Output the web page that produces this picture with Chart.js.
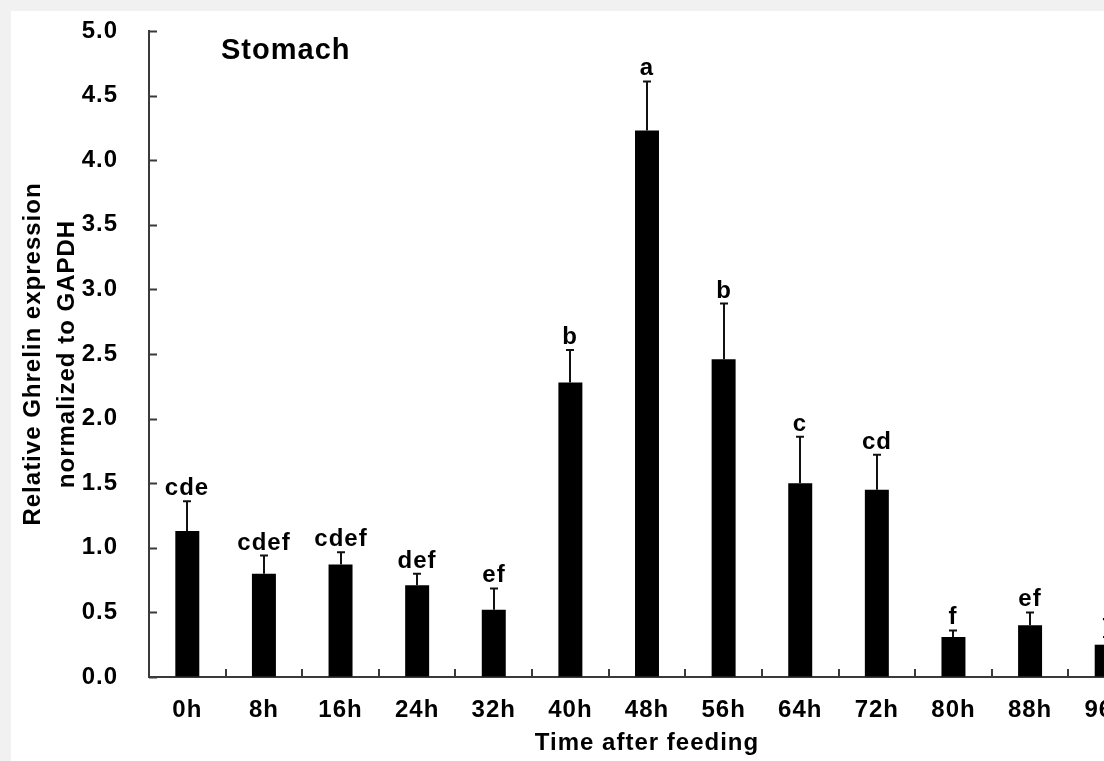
<!DOCTYPE html>
<html>
<head>
<meta charset="utf-8">
<title>Stomach ghrelin expression after feeding</title>
<script src="https://cdn.jsdelivr.net/npm/chart.js@4.4.1/dist/chart.umd.min.js"></script>
<style>
  html, body { margin: 0; padding: 0; width: 1104px; height: 761px; overflow: hidden; background: #f1f1f1; }
  #panel { position: absolute; left: 11px; top: 11px; width: 1140px; height: 750px; background: #ffffff; }
  canvas { display: block; }
</style>
</head>
<body>
<div id="panel"><canvas id="chart" width="1140" height="750"></canvas></div>
<script>
// Sampling times after feeding
const categories = ['0h', '8h', '16h', '24h', '32h', '40h', '48h', '56h', '64h', '72h', '80h', '88h', '96h'];
// Mean relative ghrelin mRNA (normalized to GAPDH)
const meanExpression = [1.13, 0.80, 0.87, 0.71, 0.52, 2.28, 4.23, 2.46, 1.50, 1.45, 0.31, 0.40, 0.25];
// Upper error (SE)
const errorSE = [0.23, 0.14, 0.095, 0.09, 0.165, 0.25, 0.38, 0.43, 0.36, 0.27, 0.05, 0.10, 0.06];
// Significance groups
const groupLetters = ['cde', 'cdef', 'cdef', 'def', 'ef', 'b', 'a', 'b', 'c', 'cd', 'f', 'ef', 'f'];
// Y axis tick labels
const yTickLabels = ['0.0', '0.5', '1.0', '1.5', '2.0', '2.5', '3.0', '3.5', '4.0', '4.5', '5.0'];

const FONT = '"Liberation Sans", Arial, Helvetica, sans-serif';
const INK = '#000000';
const AXIS = '#3a3a3a';
const SPACING = '1px';

// Slightly open glyph spacing for all canvas text
const spacingPlugin = {
  id: 'spacing',
  beforeDraw(chart) { chart.ctx.letterSpacing = SPACING; }
};

// Inward tick marks on both axes
const innerTicks = {
  id: 'innerTicks',
  afterDatasetsDraw(chart) {
    const { ctx, scales: { x, y }, chartArea } = chart;
    ctx.save();
    ctx.strokeStyle = AXIS;
    ctx.lineWidth = 2;
    ctx.beginPath();
    y.ticks.forEach(t => {
      const py = Math.round(y.getPixelForValue(t.value)) + 0.5;
      ctx.moveTo(chartArea.left, py);
      ctx.lineTo(chartArea.left + 8, py);
    });
    for (let i = 0; i < categories.length - 1; i++) {
      const px = Math.round((x.getPixelForTick(i) + x.getPixelForTick(i + 1)) / 2);
      ctx.moveTo(px, chartArea.bottom);
      ctx.lineTo(px, chartArea.bottom - 8);
    }
    ctx.stroke();
    ctx.restore();
  }
};

// Upper error bars and significance letters
const errorBars = {
  id: 'errorBars',
  afterDatasetsDraw(chart) {
    const { ctx, scales: { y } } = chart;
    const meta = chart.getDatasetMeta(0);
    ctx.save();
    ctx.strokeStyle = '#111111';
    ctx.lineWidth = 2;
    ctx.fillStyle = INK;
    ctx.font = 'bold 24px ' + FONT;
    ctx.letterSpacing = SPACING;
    ctx.textAlign = 'center';
    ctx.textBaseline = 'alphabetic';
    meta.data.forEach((bar, i) => {
      const top = y.getPixelForValue(meanExpression[i]);
      const tip = y.getPixelForValue(meanExpression[i] + errorSE[i]);
      const cx = Math.round(bar.x);
      ctx.beginPath();
      ctx.moveTo(cx, top);
      ctx.lineTo(cx, tip);
      ctx.moveTo(cx - 4, tip);
      ctx.lineTo(cx + 4, tip);
      ctx.stroke();
      ctx.fillText(groupLetters[i], cx, tip - 6);
    });
    ctx.restore();
  }
};

// Tissue name inside the plot area
const tissueLabel = {
  id: 'tissueLabel',
  afterDraw(chart) {
    const { ctx, chartArea } = chart;
    ctx.save();
    ctx.fillStyle = INK;
    ctx.font = 'bold 29px ' + FONT;
    ctx.letterSpacing = SPACING;
    ctx.textAlign = 'left';
    ctx.textBaseline = 'alphabetic';
    ctx.fillText('Stomach', chartArea.left + 72, chartArea.top + 28);
    ctx.restore();
  }
};

new Chart(document.getElementById('chart'), {
  type: 'bar',
  data: {
    labels: categories,
    datasets: [{
      data: meanExpression,
      backgroundColor: INK,
      borderWidth: 0,
      categoryPercentage: 1.0,
      barPercentage: 0.313
    }]
  },
  options: {
    responsive: false,
    animation: false,
    events: [],
    layout: { padding: { top: 20, right: 6, left: 0, bottom: 0 } },
    plugins: { legend: { display: false }, tooltip: { enabled: false }, title: { display: false } },
    scales: {
      x: {
        grid: { display: true, drawOnChartArea: false, drawTicks: false, color: 'rgba(0,0,0,0)' },
        border: { display: true, color: AXIS, width: 2 },
        ticks: {
          color: INK, autoSkip: false, maxRotation: 0, minRotation: 0, padding: 19,
          font: { family: FONT, size: 24, weight: 'bold' }
        },
        title: {
          display: true, text: 'Time after feeding', color: INK,
          font: { family: FONT, size: 24, weight: 'bold' },
          padding: { top: 0, bottom: 3 }
        },
        afterFit(scale) { scale.height = 84; }
      },
      y: {
        min: 0, max: 5,
        grid: { display: true, drawOnChartArea: false, drawTicks: false, color: 'rgba(0,0,0,0)' },
        border: { display: true, color: AXIS, width: 2 },
        ticks: {
          stepSize: 0.5, color: INK, padding: 31,
          font: { family: FONT, size: 24, weight: 'bold' },
          callback: (v, i) => yTickLabels[i]
        },
        title: {
          display: true, text: ['Relative Ghrelin expression', 'normalized to GAPDH'], color: INK,
          font: { family: FONT, size: 24, weight: 'bold', lineHeight: 1.42 },
          padding: { top: 5, bottom: 0 }
        },
        afterFit(scale) {
          scale.width = 138;
          scale.paddingTop = 0;
          scale.paddingBottom = 0;
        }
      }
    }
  },
  plugins: [spacingPlugin, innerTicks, errorBars, tissueLabel]
});
</script>
</body>
</html>
